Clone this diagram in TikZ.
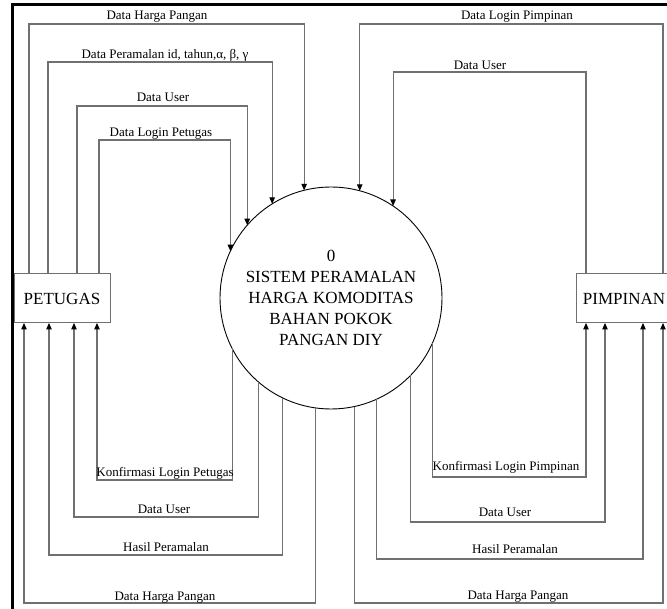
\documentclass[tikz,border=0pt]{standalone}
\usepackage{fontspec}
\setmainfont{Liberation Serif}
\usetikzlibrary{arrows.meta}
\definecolor{flowgray}{HTML}{707070}
\begin{document}
\begin{tikzpicture}[x=1pt,y=-1pt,
  flow/.style={draw=flowgray, line width=1.1pt, -{Triangle[length=6.5pt,width=5.5pt,black]}},
  lbl/.style={font=\fontsize{13}{15}\selectfont, anchor=base, inner sep=0pt},
  ent/.style={draw=flowgray, line width=1pt, minimum width=96pt, minimum height=49pt,
    inner sep=0pt, outer sep=0pt, font=\fontsize{17}{20}\selectfont},
  proc/.style={circle, draw=black, line width=0.9pt, minimum size=222pt, inner sep=0pt,
    outer sep=0pt, align=center, font=\fontsize{17}{20.8}\selectfont}]

\useasboundingbox (0,0) rectangle (667,609);
\clip (0,0) rectangle (667,609);

% outer frame
\draw[line width=3pt] (12.5,640) |- (700,4.5);

% process and external entities
\node[proc] (sys) at (331,298) {0\\SISTEM PERAMALAN\\HARGA KOMODITAS\\BAHAN POKOK\\PANGAN DIY};
\node[ent] (pet) at (62,298.5) {PETUGAS};
\node[ent] (pim) at (624,298.5) {PIMPINAN};

% PETUGAS -> system
\draw[flow] ([xshift=-33pt]pet.north) |- (sys.104.61 |- 0,24) -- (sys.104.61);
\draw[flow] ([xshift=-14pt]pet.north) |- (sys.122.72 |- 0,62) -- (sys.122.72);
\draw[flow] ([xshift=15pt]pet.north) |- (sys.139.98 |- 0,106) -- (sys.139.98);
\draw[flow] ([xshift=37pt]pet.north) |- (sys.155.47 |- 0,140) -- (sys.155.47);
\node[lbl] (t1) at (157,20) {Data Harga Pangan};
\node[lbl] (t2) at (165,59) {Data Peramalan id, tahun,α, β, γ};
\node[lbl] (t3) at (163,101.5) {Data User};
\node[lbl] (t4) at (161,136.5) {Data Login Petugas};

% system -> PETUGAS
\draw[flow] (sys.-153.10) -- (sys.-153.10 |- 0,480) -| ([xshift=35pt]pet.south);
\draw[flow] (sys.-131.81) -- (sys.-131.81 |- 0,517) -| ([xshift=12pt]pet.south);
\draw[flow] (sys.-116.19) -- (sys.-116.19 |- 0,555) -| ([xshift=-13pt]pet.south);
\draw[flow] (sys.-98.29) -- (sys.-98.29 |- 0,603) -| ([xshift=-38pt]pet.south);
\node[lbl] (b1) at (165,476.5) {Konfirmasi Login Petugas};
\node[lbl] (b2) at (164,513) {Data User};
\node[lbl] (b3) at (166,551.5) {Hasil Peramalan};
\node[lbl] (b4) at (165,600) {Data Harga Pangan};

% PIMPINAN -> system
\draw[flow] ([xshift=39pt]pim.north) |- (sys.75.39 |- 0,24) -- (sys.75.39);
\draw[flow] ([xshift=-38pt]pim.north) |- (sys.56.04 |- 0,72) -- (sys.56.04);
\node[lbl] (t5) at (517,20) {Data Login Pimpinan};
\node[lbl] (t6) at (480,69.5) {Data User};

% system -> PIMPINAN
\draw[flow] (sys.-24.53) -- (sys.-24.53 |- 0,477) -| ([xshift=-38pt]pim.south);
\draw[flow] (sys.-44.63) -- (sys.-44.63 |- 0,522) -| ([xshift=-19pt]pim.south);
\draw[flow] (sys.-66.65) -- (sys.-66.65 |- 0,559) -| ([xshift=19pt]pim.south);
\draw[flow] (sys.-78.57) -- (sys.-78.57 |- 0,603) -| ([xshift=39pt]pim.south);
\node[lbl] (b5) at (506,471) {Konfirmasi Login Pimpinan};
\node[lbl] (b6) at (505,516) {Data User};
\node[lbl] (b7) at (515,553) {Hasil Peramalan};
\node[lbl] (b8) at (518,599) {Data Harga Pangan};
\end{tikzpicture}
\end{document}
